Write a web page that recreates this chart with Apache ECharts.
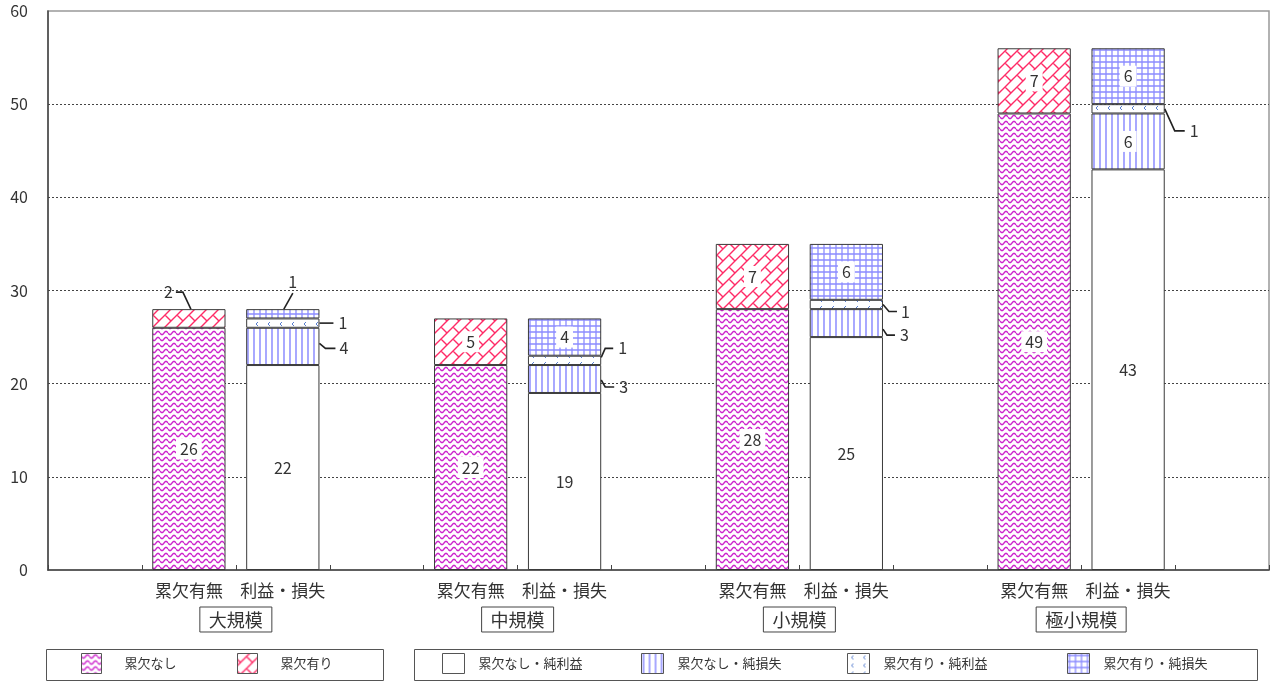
<!DOCTYPE html>
<html>
<head>
<meta charset="utf-8">
<script src="https://cdn.jsdelivr.net/npm/echarts@6/dist/echarts.min.js"></script>
<style>
html,body{margin:0;padding:0;background:#fff;}
#chart{width:1276px;height:684px;}
</style>
</head>
<body>
<div id="chart"></div>
<script>
// 規模別グループと棒の名前
var groups = ['大規模', '中規模', '小規模', '極小規模'];
var barNames = ['累欠有無', '利益・損失'];

// 累欠有無の棒
var nashi = [26, 22, 28, 49];        // 累欠なし
var ari = [2, 5, 7, 7];              // 累欠有り
// 利益・損失の棒
var nashiRieki = [22, 19, 25, 43];   // 累欠なし・純利益
var nashiSonshitsu = [4, 3, 3, 6];   // 累欠なし・純損失
var ariRieki = [1, 1, 1, 1];         // 累欠有り・純利益
var ariSonshitsu = [1, 4, 6, 6];     // 累欠有り・純損失

var yMax = 60, yStep = 10;

var FONT = '"Noto Sans CJK JP", "Noto Sans", sans-serif';

// ---- patterns ----
function tile(w, h, draw) {
    var c = document.createElement('canvas');
    c.width = w; c.height = h;
    var ctx = c.getContext('2d');
    ctx.fillStyle = '#fff';
    ctx.fillRect(0, 0, w, h);
    draw(ctx);
    return {image: c, repeat: 'repeat'};
}
var patWave = tile(8, 6, function (ctx) {
    ctx.strokeStyle = '#cc22cc';
    ctx.lineWidth = 1.4;
    ctx.beginPath();
    for (var x = 0; x <= 8; x += 0.5) {
        var y = 3 + 1.6 * Math.sin(x / 8 * Math.PI * 2);
        if (x == 0) ctx.moveTo(x, y); else ctx.lineTo(x, y);
    }
    ctx.stroke();
});
var patBrick = tile(12, 12, function (ctx) {
    ctx.strokeStyle = '#ff2a66';
    ctx.lineWidth = 1.4;
    ctx.beginPath();
    // long "/" lines
    ctx.moveTo(-1, 13); ctx.lineTo(13, -1);
    ctx.moveTo(-1, 1); ctx.lineTo(1, -1);
    ctx.moveTo(11, 13); ctx.lineTo(13, 11);
    // short "\" joints, wrapped around the tile
    var dx, dy;
    for (dx = -12; dx <= 12; dx += 12) {
        for (dy = -12; dy <= 12; dy += 12) {
            ctx.moveTo(3 + dx, 9 + dy); ctx.lineTo(-3 + dx, 3 + dy);
        }
    }
    ctx.stroke();
});
var patVert = tile(6, 4, function (ctx) {
    ctx.strokeStyle = '#7a7aff';
    ctx.lineWidth = 1.3;
    ctx.beginPath();
    ctx.moveTo(2, 0); ctx.lineTo(2, 4);
    ctx.stroke();
});
var patDots = tile(12, 8, function (ctx) {
    ctx.strokeStyle = '#5a7fd0';
    ctx.lineWidth = 1;
    ctx.beginPath();
    ctx.moveTo(6, 2); ctx.lineTo(4, 4); ctx.lineTo(6, 6);
    ctx.stroke();
});
var patGrid = tile(6, 6, function (ctx) {
    ctx.strokeStyle = '#8c8cff';
    ctx.lineWidth = 1.3;
    ctx.beginPath();
    ctx.moveTo(2, 0); ctx.lineTo(2, 6);
    ctx.moveTo(0, 2); ctx.lineTo(6, 2);
    ctx.stroke();
});

// 13カテゴリ（各グループの間に空き）
var cats = [];
for (var g = 0; g < groups.length; g++) {
    cats.push('', barNames[0], barNames[1]);
}
cats.push('');

var stacks = [
    {name: '累欠なし', data: nashi, col: 1, color: patWave},
    {name: '累欠有り', data: ari, col: 1, color: patBrick},
    {name: '累欠なし・純利益', data: nashiRieki, col: 2, color: '#fff'},
    {name: '累欠なし・純損失', data: nashiSonshitsu, col: 2, color: patVert},
    {name: '累欠有り・純利益', data: ariRieki, col: 2, color: patDots},
    {name: '累欠有り・純損失', data: ariSonshitsu, col: 2, color: patGrid}
];

// 棒の外に出すラベル（引出線の形）
var leaders = [
    {name: '累欠有り', g: 0, at: 'top', pts: [[2, 0], [-6, -17], [-13, -17]], text: [-16, -17], align: 'right'},
    {name: '累欠有り・純損失', g: 0, at: 'top', pts: [[1, 0], [10, -16]], text: [10, -27], align: 'center'},
    {name: '累欠有り・純利益', g: 0, at: 'right', pts: [[0, 0], [14, 0]], text: [19, 0], align: 'left'},
    {name: '累欠なし・純損失', g: 0, at: 'right', pts: [[0, -3], [6, 2], [16, 2]], text: [20, 2], align: 'left'},
    {name: '累欠有り・純利益', g: 1, at: 'right', pts: [[0, -3], [4, -12], [12, -12]], text: [17, -12], align: 'left'},
    {name: '累欠なし・純損失', g: 1, at: 'right', pts: [[0, 1], [4, 8], [13, 8]], text: [18, 8], align: 'left'},
    {name: '累欠有り・純利益', g: 2, at: 'right', pts: [[0, 0], [6, 7], [14, 7]], text: [18, 7], align: 'left'},
    {name: '累欠なし・純損失', g: 2, at: 'right', pts: [[0, 6], [4, 12], [12, 12]], text: [17, 12], align: 'left'},
    {name: '累欠有り・純利益', g: 3, at: 'right', pts: [[0, 0], [10, 22], [20, 22]], text: [25, 22], align: 'left'}
];

function isOutside(name, g) {
    for (var i = 0; i < leaders.length; i++) {
        if (leaders[i].name == name && leaders[i].g == g) return true;
    }
    return false;
}

var series = [];
var base = {};   // カテゴリ毎の積み上げ位置
stacks.forEach(function (s) {
    var data = cats.map(function () { return '-'; });
    s.lo = [];
    for (var g = 0; g < groups.length; g++) {
        var ci = g * 3 + s.col;
        base[ci] = base[ci] || 0;
        s.lo.push(base[ci]);
        base[ci] += s.data[g];
        data[ci] = isOutside(s.name, g) ? {value: s.data[g], label: {show: false}} : s.data[g];
    }
    series.push({
        name: s.name,
        type: 'bar',
        stack: 'all',
        barCategoryGap: '22%',
        data: data,
        itemStyle: {color: s.color, borderColor: '#3a3a3a', borderWidth: 1},
        label: {
            show: true,
            position: 'inside',
            fontSize: 16,
            fontFamily: FONT,
            color: '#333',
            backgroundColor: '#fff',
            padding: [3, 4, 2, 4]
        },
        emphasis: {disabled: true}
    });
});

var leaderData = leaders.map(function (l) {
    var s = stacks.filter(function (t) { return t.name == l.name; })[0];
    return [l.g * 3 + s.col, s.lo[l.g], s.lo[l.g] + s.data[l.g], s.data[l.g]];
});

series.push({
    type: 'custom',
    name: 'leader',
    data: leaderData,
    z: 10,
    silent: true,
    renderItem: function (params, api) {
        var l = leaders[params.dataIndex];
        var lo = api.value(1), hi = api.value(2);
        var half = api.size([1, 0])[0] * 0.78 / 2;
        var c = api.coord([api.value(0), l.at == 'top' ? hi : (lo + hi) / 2]);
        var ax = l.at == 'right' ? c[0] + half : c[0];
        var ay = c[1];
        var pts = l.pts.map(function (p) { return [ax + p[0], ay + p[1]]; });
        return {
            type: 'group',
            children: [
                {type: 'polyline', shape: {points: pts}, style: {stroke: '#222', lineWidth: 1.6, fill: null}},
                {type: 'text', x: ax + l.text[0], y: ay + l.text[1],
                 style: {text: String(api.value(3)), fill: '#333', fontSize: 16, fontFamily: FONT,
                         align: l.align, verticalAlign: 'middle'}}
            ]
        };
    }
});

// 凡例：項目ごとに置き、枠は graphic で描く
var legendItems = [
    {name: '累欠なし', left: 81, iw: 20, gap: 18},
    {name: '累欠有り', left: 237, iw: 20, gap: 18},
    {name: '累欠なし・純利益', left: 442, iw: 22, gap: 9},
    {name: '累欠なし・純損失', left: 641, iw: 22, gap: 9},
    {name: '累欠有り・純利益', left: 847, iw: 22, gap: 9},
    {name: '累欠有り・純損失', left: 1067, iw: 22, gap: 9}
];
var legends = legendItems.map(function (it) {
    return {
        data: [it.name],
        left: it.left, top: 653,
        padding: 0,
        icon: 'rect', itemWidth: it.iw, itemHeight: 20,
        selectedMode: false,
        itemStyle: {borderColor: '#555', borderWidth: 1},
        formatter: '{s|}{name}',
        textStyle: {fontSize: 13, color: '#333', rich: {s: {width: it.gap}}}
    };
});

var chart = echarts.init(document.getElementById('chart'));
var option = {
    animation: false,
    textStyle: {fontFamily: FONT},
    grid: {left: 48, right: 7, top: 11, bottom: 114, show: true, borderColor: '#999', borderWidth: 1.5},
    legend: legends,
    graphic: [
        {type: 'rect', left: 44, top: 647, shape: {width: 337, height: 31}, style: {fill: null, stroke: '#555', lineWidth: 1}, silent: true},
        {type: 'rect', left: 412, top: 647, shape: {width: 843, height: 31}, style: {fill: null, stroke: '#555', lineWidth: 1}, silent: true}
    ],
    xAxis: [
        {
            type: 'category',
            data: cats,
            axisLine: {lineStyle: {color: '#444', width: 1.5}},
            axisTick: {show: true, inside: true, length: 5, interval: 0, lineStyle: {color: '#444'}},
            axisLabel: {interval: 0, fontSize: 17, color: '#333', margin: 12}
        },
        {
            type: 'value',
            min: 0, max: 13,
            position: 'bottom',
            axisLine: {show: false},
            axisTick: {show: false},
            splitLine: {show: false},
            axisLabel: {
                customValues: [2, 5, 8, 11],
                formatter: function (v) { return groups[Math.round((v - 2) / 3)]; },
                fontSize: 18, color: '#333', margin: 37,
                borderColor: '#444', borderWidth: 1, padding: [4, 9, 3, 9]
            }
        }
    ],
    yAxis: {
        type: 'value',
        min: 0, max: yMax, interval: yStep,
        axisLine: {show: true, lineStyle: {color: '#444', width: 1.5}},
        axisTick: {show: false},
        axisLabel: {fontSize: 16, color: '#333', margin: 20},
        splitLine: {show: true, showMinLine: false, showMaxLine: false, lineStyle: {color: '#444', type: [2, 2], width: 1}}
    },
    series: series
};
chart.setOption(option);
</script>
</body>
</html>
